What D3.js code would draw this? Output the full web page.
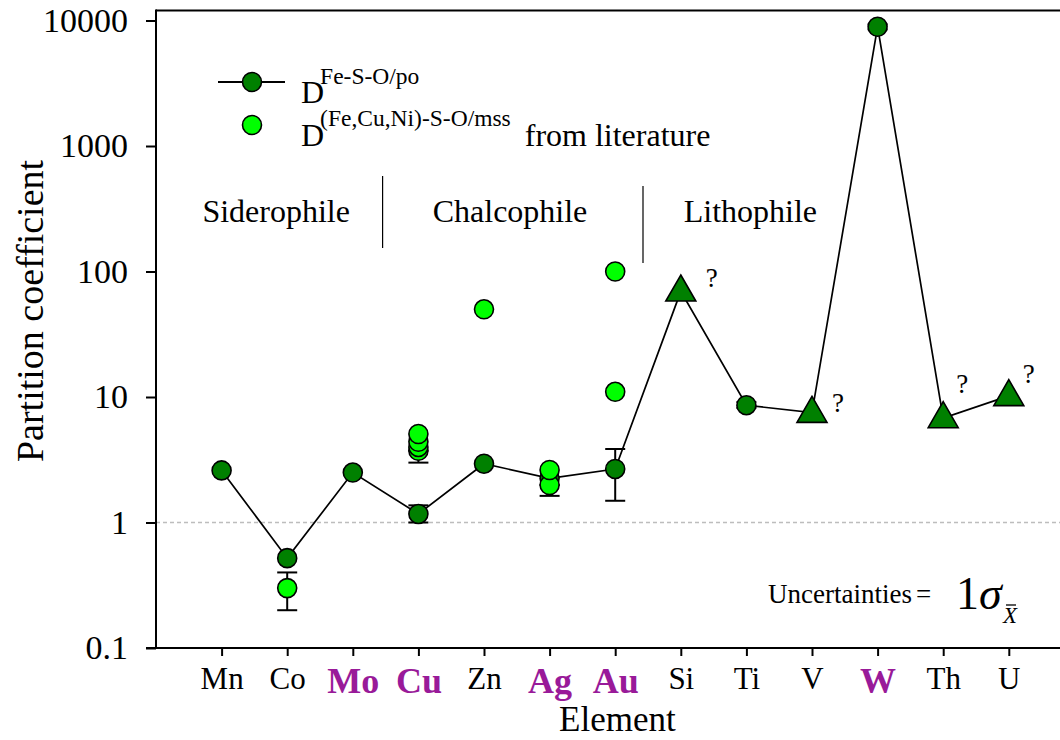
<!DOCTYPE html>
<html>
<head>
<meta charset="utf-8">
<script src="https://cdn.jsdelivr.net/npm/d3@7"></script>
<style>
  html, body { margin: 0; padding: 0; background: #fff; }
  svg { display: block; font-family: "Liberation Serif", "Times New Roman", serif; }
</style>
</head>
<body>
<svg id="chart" width="1060" height="740"></svg>
<script>
// Elements along the x axis
const elements = ["Mn", "Co", "Mo", "Cu", "Zn", "Ag", "Au", "Si", "Ti", "V", "W", "Th", "U"];
// Elements whose labels are highlighted
const highlighted = ["Mo", "Cu", "Ag", "Au", "W"];

// D(Fe-S-O/po), measured partition coefficients
const poValues = [2.6, 0.52, 2.5, 1.17, 2.94, 2.25, 2.67, 69.5, 8.6, 7.5, 8920, 6.8, 10.2];
// marker per element: "c" circle, "t" triangle (uncertain value, flagged with ?)
const poShapes = ["c", "c", "c", "c", "c", "c", "c", "t", "c", "t", "c", "t", "t"];
// error bars on the measured values [element, low, high]
const poErrors = [
  ["Cu", 1.0, 1.37],
  ["Au", 1.49, 3.85],
  ["Ti", 8.2, 9.1],
  ["W", 8500, 9300]
];

// D((Fe,Cu,Ni)-S-O/mss) from literature [element, value]
const litPoints = [
  ["Co", 0.30],
  ["Cu", 3.73], ["Cu", 4.0], ["Cu", 4.4], ["Cu", 5.07],
  ["Zn", 50],
  ["Ag", 1.99], ["Ag", 2.62],
  ["Au", 11], ["Au", 100]
];
const litErrors = [
  ["Co", 0.20, 0.40],
  ["Cu", 3.0, 3.73],
  ["Ag", 1.63, 1.99]
];

const yTicks = [0.1, 1, 10, 100, 1000, 10000];
const yTickLabels = ["0.1", "1", "10", "100", "1000", "10000"];

const groups = ["Siderophile", "Chalcophile", "Lithophile"];

const svg = d3.select("#chart");
const plotLeft = 156, plotBottom = 648, plotTop = 10.5;
const step = 65.6;
const xRight = 1060;

const x = d3.scalePoint()
  .domain(elements)
  .range([plotLeft, plotLeft + step * (elements.length + 1)])
  .padding(1);

const y = d3.scaleLog()
  .domain([0.1, 10000])
  .range([plotBottom, 20.5]);

const DARK = "#008000", LIGHT = "#00ff00", PURPLE = "#991a99";
const SERIF = "Liberation Serif, Times New Roman, serif";

// reference line at D = 1
svg.append("line")
  .attr("x1", plotLeft).attr("x2", xRight)
  .attr("y1", y(1)).attr("y2", y(1))
  .attr("stroke", "#bdbdbd").attr("stroke-width", 1.3)
  .attr("stroke-dasharray", "4,3");

// top frame line
svg.append("line").attr("x1", plotLeft).attr("x2", xRight).attr("y1", plotTop).attr("y2", plotTop)
  .attr("stroke", "#000").attr("stroke-width", 2);

// y axis
const yAxis = svg.append("g")
  .attr("transform", `translate(${plotLeft},0)`)
  .call(d3.axisLeft(y).tickValues(yTicks).tickFormat((d, i) => yTickLabels[i]).tickSize(10).tickPadding(18));
yAxis.select(".domain").remove();
yAxis.selectAll(".tick line").attr("stroke-width", 2);
yAxis.selectAll(".tick text")
  .attr("font-family", SERIF)
  .attr("font-size", 34).attr("fill", "#000");
svg.append("line").attr("x1", plotLeft).attr("x2", plotLeft).attr("y1", plotTop - 1).attr("y2", plotBottom + 1)
  .attr("stroke", "#000").attr("stroke-width", 2);

// x axis
const xAxis = svg.append("g")
  .attr("transform", `translate(0,${plotBottom})`)
  .call(d3.axisBottom(x).tickSize(8).tickPadding(10));
xAxis.select(".domain").remove();
xAxis.selectAll(".tick line").attr("stroke-width", 2);
xAxis.selectAll(".tick text")
  .attr("font-family", SERIF)
  .attr("dy", "0.75em")
  .attr("font-size", d => highlighted.includes(d) ? 36 : 31)
  .attr("font-weight", d => highlighted.includes(d) ? "bold" : "normal")
  .attr("fill", d => highlighted.includes(d) ? PURPLE : "#000");
svg.append("line").attr("x1", plotLeft - 10).attr("x2", xRight).attr("y1", plotBottom).attr("y2", plotBottom)
  .attr("stroke", "#000").attr("stroke-width", 2);

// axis titles
svg.append("text")
  .attr("x", (x("Ag") + x("Au")) / 2 + 35).attr("y", 731)
  .attr("text-anchor", "middle").attr("font-size", 35)
  .text("Element");
svg.append("text")
  .attr("transform", `translate(43,${y(10) - 86}) rotate(-90)`)
  .attr("text-anchor", "middle").attr("font-size", 38)
  .text("Partition coefficient");

// group labels and dividers
const groupPos = [x("Co") - 11, x("Zn") + 26, x("Ti") + 4];
svg.selectAll("text.group").data(groups).join("text")
  .attr("class", "group")
  .attr("x", (d, i) => groupPos[i]).attr("y", 222)
  .attr("text-anchor", "middle").attr("font-size", 32)
  .text(d => d);
const dividers = [[(x("Mo") + x("Cu")) / 2 - 3, 176, 248], [(x("Au") + x("Si")) / 2 - 5, 186, 263]];
svg.selectAll("line.div").data(dividers).join("line")
  .attr("class", "div")
  .attr("x1", d => d[0]).attr("x2", d => d[0])
  .attr("y1", d => d[1]).attr("y2", d => d[2])
  .attr("stroke", "#000").attr("stroke-width", 1.2);

// error bar helper
function errorBars(data) {
  const g = svg.append("g").attr("stroke", "#000").attr("stroke-width", 2);
  data.forEach(([el, lo, hi]) => {
    const cx = x(el);
    g.append("line").attr("x1", cx).attr("x2", cx).attr("y1", y(lo)).attr("y2", y(hi));
    g.append("line").attr("x1", cx - 10).attr("x2", cx + 10).attr("y1", y(lo)).attr("y2", y(lo));
    g.append("line").attr("x1", cx - 10).attr("x2", cx + 10).attr("y1", y(hi)).attr("y2", y(hi));
  });
}

errorBars(litErrors);
errorBars(poErrors);

// measured series line
const line = d3.line().x((d, i) => x(elements[i])).y(d => y(d));
svg.append("path")
  .datum(poValues)
  .attr("d", line)
  .attr("fill", "none").attr("stroke", "#000").attr("stroke-width", 1.7);

// measured points
const tri = d3.symbol().type(d3.symbolTriangle).size(390);
const po = elements.map((el, i) => ({ el, v: poValues[i], s: poShapes[i] }));
svg.selectAll("circle.po").data(po.filter(d => d.s === "c")).join("circle")
  .attr("class", "po")
  .attr("cx", d => x(d.el)).attr("cy", d => y(d.v))
  .attr("r", 9.5)
  .attr("fill", DARK).attr("stroke", "#000").attr("stroke-width", 1.6);
svg.selectAll("path.po").data(po.filter(d => d.s === "t")).join("path")
  .attr("class", "po")
  .attr("d", tri)
  .attr("transform", d => `translate(${x(d.el)},${y(d.v) + 1})`)
  .attr("fill", DARK).attr("stroke", "#000").attr("stroke-width", 1.6);

// literature points, drawn over the measured ones
svg.selectAll("circle.lit").data(litPoints).join("circle")
  .attr("class", "lit")
  .attr("cx", d => x(d[0])).attr("cy", d => y(d[1]))
  .attr("r", 9.5)
  .attr("fill", LIGHT).attr("stroke", "#000").attr("stroke-width", 1.6);

// question marks beside uncertain values (offsets in px from the marker)
const qOffset = { Si: [25, -4], V: [20, -1], Th: [13, -25], U: [14, -13] };
svg.selectAll("text.q").data(po.filter(d => d.s === "t")).join("text")
  .attr("class", "q")
  .attr("x", d => x(d.el) + qOffset[d.el][0]).attr("y", d => y(d.v) + qOffset[d.el][1])
  .attr("font-size", 27)
  .text("?");

// legend
const lg = svg.append("g");
lg.append("line").attr("x1", 218).attr("x2", 285).attr("y1", 82).attr("y2", 82)
  .attr("stroke", "#000").attr("stroke-width", 2);
lg.append("circle").attr("cx", 252).attr("cy", 82).attr("r", 9.5)
  .attr("fill", DARK).attr("stroke", "#000").attr("stroke-width", 1.6);
lg.append("circle").attr("cx", 252).attr("cy", 125).attr("r", 9.5)
  .attr("fill", LIGHT).attr("stroke", "#000").attr("stroke-width", 1.6);

const t1 = lg.append("text").attr("x", 301).attr("y", 103).attr("font-size", 32);
t1.append("tspan").text("D");
t1.append("tspan").attr("font-size", 23.5).attr("dx", -4).attr("dy", -19.5).text("Fe-S-O/po");

const t2 = lg.append("text").attr("x", 301).attr("y", 146).attr("font-size", 32);
t2.append("tspan").text("D");
t2.append("tspan").attr("font-size", 23.5).attr("dx", -4).attr("dy", -20).text("(Fe,Cu,Ni)-S-O/mss");
t2.append("tspan").attr("dx", 6).attr("dy", 20).text(" from literature");

// uncertainty note
const un = svg.append("text").attr("y", 603).attr("font-size", 27);
un.append("tspan").attr("x", 768).text("Uncertainties");
un.append("tspan").attr("x", 916).text("=");
const sig = svg.append("text").attr("x", 956).attr("y", 609).attr("font-size", 46);
sig.append("tspan").text("1");
sig.append("tspan").attr("font-style", "italic").text("σ");
svg.append("text").attr("x", 1003).attr("y", 623).attr("font-size", 23)
  .attr("font-style", "italic").text("X");
svg.append("line").attr("x1", 1006).attr("x2", 1016).attr("y1", 605).attr("y2", 605)
  .attr("stroke", "#000").attr("stroke-width", 1.3);
</script>
</body>
</html>
